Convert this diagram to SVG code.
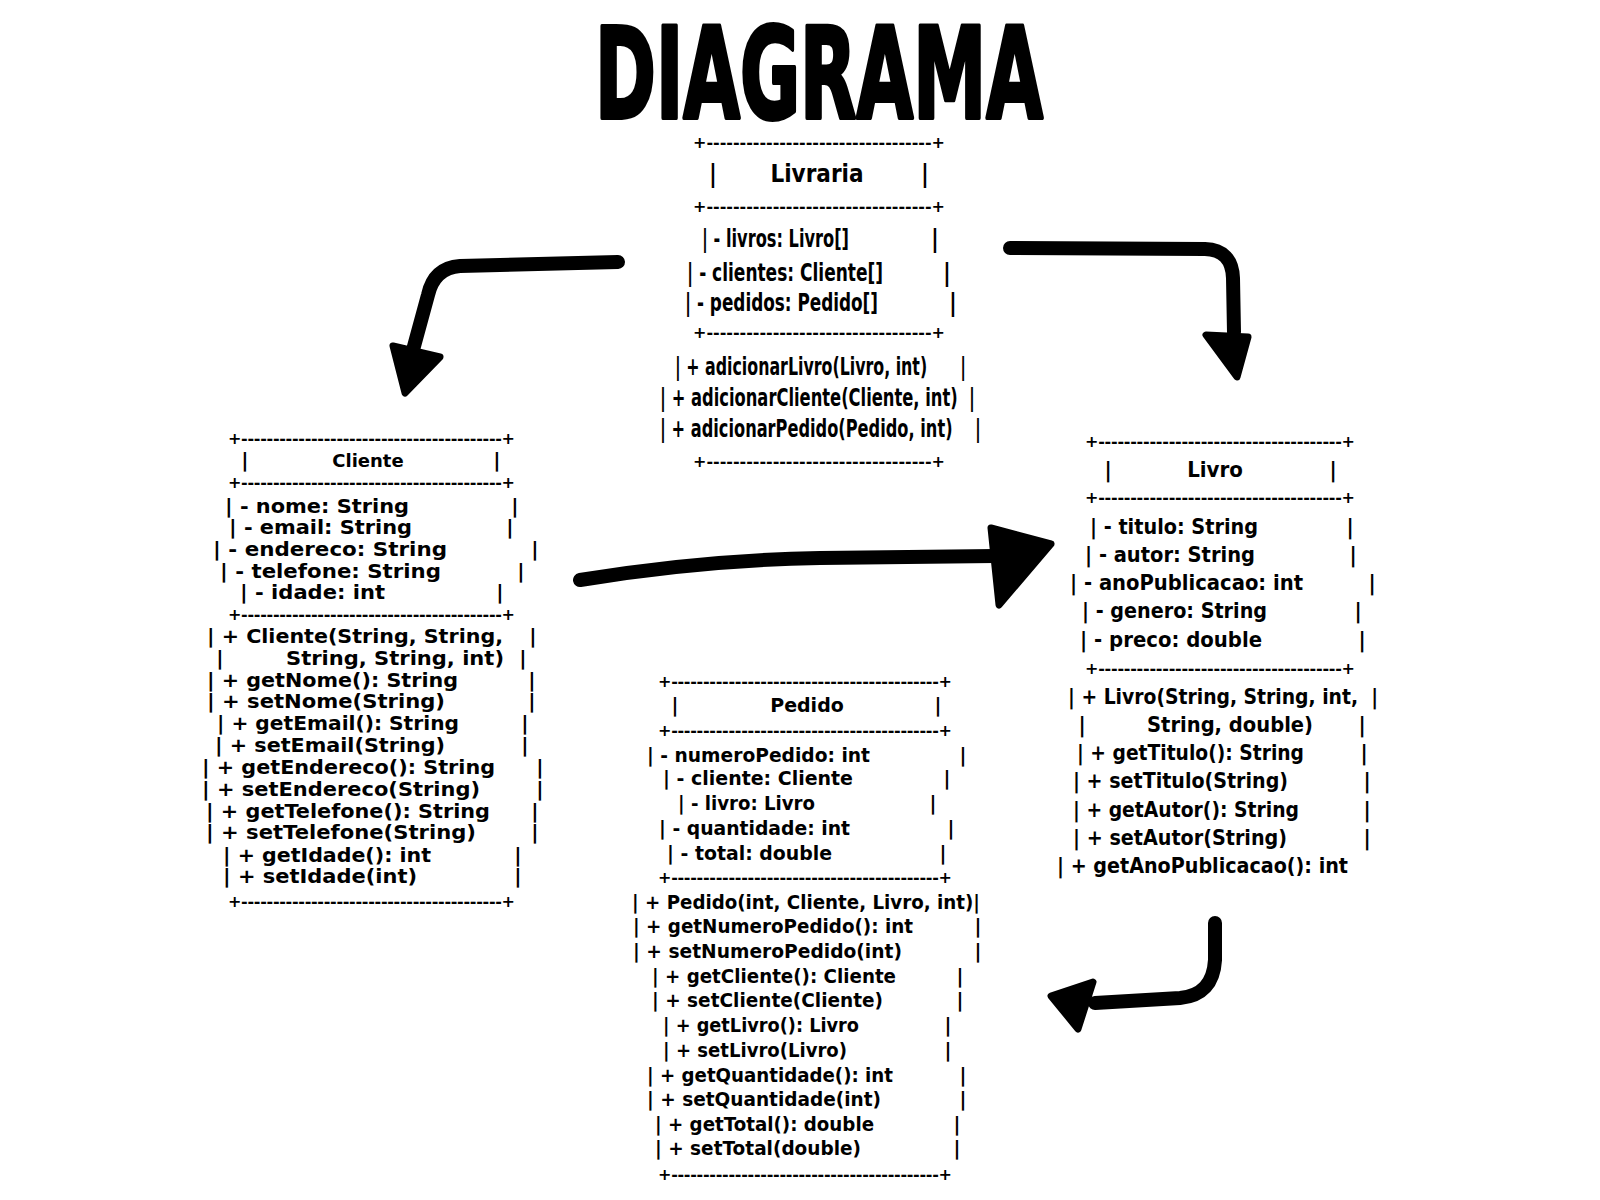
<svg xmlns="http://www.w3.org/2000/svg" width="1600" height="1200" viewBox="0 0 1600 1200">
<style>
text{fill:#000}
.title{font-family:'DejaVu Sans Condensed','DejaVu Sans',sans-serif;font-stretch:condensed;font-weight:bold;font-size:126px;stroke:#000;stroke-width:4px;stroke-linejoin:round}
.lv{font-family:'DejaVu Sans Condensed','DejaVu Sans',sans-serif;font-stretch:condensed;font-weight:bold;font-size:24px;white-space:pre}
.li{font-family:'DejaVu Sans Condensed','DejaVu Sans',sans-serif;font-stretch:condensed;font-weight:bold;font-size:22px;white-space:pre}
.cl{font-family:'DejaVu Sans',sans-serif;font-weight:bold;font-size:20px}
.pe{font-family:'DejaVu Sans',sans-serif;font-weight:bold;font-size:19px}
.bd{font-family:'DejaVu Sans',sans-serif;font-weight:bold;font-size:16px}
.rb{text-anchor:middle}
.mid{text-anchor:middle}
.wire{fill:none;stroke:#000;stroke-width:14;stroke-linecap:round;stroke-linejoin:round}
.head{fill:#000;stroke:#000;stroke-width:7;stroke-linejoin:round}
</style>

<text class="title" x="595" y="118" textLength="448" lengthAdjust="spacingAndGlyphs">DIAGRAMA</text>

<g id="connectors">
  <path class="wire" d="M618,262 L460,266 Q434,268 428,295 L413,350"/>
  <polygon class="head" points="393,346 440,357 405,393"/>
  <path class="wire" d="M1010,248 L1205,249 Q1232,250 1233,278 L1234,332"/>
  <polygon class="head" points="1206,335 1248,337 1237,377"/>
  <path class="wire" d="M580,580 Q700,560 820,558 L995,556"/>
  <polygon class="head" points="991,528 1051,544 999,605"/>
  <path class="wire" d="M1215,923 L1215,960 Q1213,995 1180,998 L1095,1003"/>
  <polygon class="head" points="1093,982 1051,996 1078,1029"/>
</g>

<g id="livraria">
  <text class="bd" x="693" y="148" textLength="252" lengthAdjust="spacing">+----------------------------------+</text>
  <text class="lv" x="713" y="182" text-anchor="middle">|</text>
  <text class="lv mid" x="817" y="182">Livraria</text>
  <text class="lv" x="925" y="182" text-anchor="middle">|</text>
  <text class="bd" x="693" y="212" textLength="252" lengthAdjust="spacing">+----------------------------------+</text>
  <text class="lv" x="702" y="247" textLength="147" lengthAdjust="spacingAndGlyphs">| - livros: Livro[]</text>
  <text class="lv rb" x="935" y="247">|</text>
  <text class="lv" x="687" y="281" textLength="196" lengthAdjust="spacingAndGlyphs">| - clientes: Cliente[]</text>
  <text class="lv rb" x="947" y="281">|</text>
  <text class="lv" x="685" y="311" textLength="193" lengthAdjust="spacingAndGlyphs">| - pedidos: Pedido[]</text>
  <text class="lv rb" x="953" y="311">|</text>
  <text class="bd" x="693" y="338" textLength="252" lengthAdjust="spacing">+----------------------------------+</text>
  <text class="lv" x="675" y="375" textLength="291" lengthAdjust="spacingAndGlyphs">| + adicionarLivro(Livro, int)      |</text>
  <text class="lv" x="660" y="406" textLength="315" lengthAdjust="spacingAndGlyphs">| + adicionarCliente(Cliente, int)  |</text>
  <text class="lv" x="660" y="437" textLength="321" lengthAdjust="spacingAndGlyphs">| + adicionarPedido(Pedido, int)    |</text>
  <text class="bd" x="693" y="467" textLength="252" lengthAdjust="spacing">+----------------------------------+</text>
</g>

<g id="cliente">
  <text class="bd" x="228" y="444" textLength="287" lengthAdjust="spacing">+-----------------------------------------+</text>
  <text class="cl rb" x="245" y="467">|</text>
  <text class="cl mid" x="368" y="467" style="font-size:18px">Cliente</text>
  <text class="cl rb" x="497" y="467">|</text>
  <text class="bd" x="228" y="488" textLength="287" lengthAdjust="spacing">+-----------------------------------------+</text>
  <text class="cl" x="225" y="513" textLength="184" lengthAdjust="spacingAndGlyphs">| - nome: String</text>
  <text class="cl rb" x="515" y="513">|</text>
  <text class="cl" x="229" y="534" textLength="183" lengthAdjust="spacingAndGlyphs">| - email: String</text>
  <text class="cl rb" x="510" y="534">|</text>
  <text class="cl" x="213" y="556" textLength="234" lengthAdjust="spacingAndGlyphs">| - endereco: String</text>
  <text class="cl rb" x="535" y="556">|</text>
  <text class="cl" x="220" y="578" textLength="221" lengthAdjust="spacingAndGlyphs">| - telefone: String</text>
  <text class="cl rb" x="521" y="578">|</text>
  <text class="cl" x="240" y="599" textLength="145" lengthAdjust="spacingAndGlyphs">| - idade: int</text>
  <text class="cl rb" x="500" y="599">|</text>
  <text class="bd" x="228" y="620" textLength="287" lengthAdjust="spacing">+-----------------------------------------+</text>
  <text class="cl" x="207" y="643" textLength="296" lengthAdjust="spacingAndGlyphs">| + Cliente(String, String,</text>
  <text class="cl rb" x="533" y="643">|</text>
  <text class="cl rb" x="220" y="665">|</text>
  <text class="cl" x="286" y="665" textLength="218" lengthAdjust="spacingAndGlyphs">String, String, int)</text>
  <text class="cl rb" x="523" y="665">|</text>
  <text class="cl" x="207" y="687" textLength="251" lengthAdjust="spacingAndGlyphs">| + getNome(): String</text>
  <text class="cl rb" x="532" y="687">|</text>
  <text class="cl" x="207" y="708" textLength="238" lengthAdjust="spacingAndGlyphs">| + setNome(String)</text>
  <text class="cl rb" x="532" y="708">|</text>
  <text class="cl" x="217" y="730" textLength="242" lengthAdjust="spacingAndGlyphs">| + getEmail(): String</text>
  <text class="cl rb" x="525" y="730">|</text>
  <text class="cl" x="215" y="752" textLength="230" lengthAdjust="spacingAndGlyphs">| + setEmail(String)</text>
  <text class="cl rb" x="525" y="752">|</text>
  <text class="cl" x="202" y="774" textLength="293" lengthAdjust="spacingAndGlyphs">| + getEndereco(): String</text>
  <text class="cl rb" x="540" y="774">|</text>
  <text class="cl" x="202" y="796" textLength="278" lengthAdjust="spacingAndGlyphs">| + setEndereco(String)</text>
  <text class="cl rb" x="540" y="796">|</text>
  <text class="cl" x="206" y="818" textLength="284" lengthAdjust="spacingAndGlyphs">| + getTelefone(): String</text>
  <text class="cl rb" x="535" y="818">|</text>
  <text class="cl" x="206" y="839" textLength="270" lengthAdjust="spacingAndGlyphs">| + setTelefone(String)</text>
  <text class="cl rb" x="535" y="839">|</text>
  <text class="cl" x="223" y="862" textLength="208" lengthAdjust="spacingAndGlyphs">| + getIdade(): int</text>
  <text class="cl rb" x="518" y="862">|</text>
  <text class="cl" x="223" y="883" textLength="194" lengthAdjust="spacingAndGlyphs">| + setIdade(int)</text>
  <text class="cl rb" x="518" y="883">|</text>
  <text class="bd" x="228" y="907" textLength="287" lengthAdjust="spacing">+-----------------------------------------+</text>
</g>

<g id="livro">
  <text class="bd" x="1085" y="447" textLength="270" lengthAdjust="spacing">+--------------------------------------+</text>
  <text class="li rb" x="1108" y="477">|</text>
  <text class="li mid" x="1215" y="477">Livro</text>
  <text class="li rb" x="1333" y="477">|</text>
  <text class="bd" x="1085" y="503" textLength="270" lengthAdjust="spacing">+--------------------------------------+</text>
  <text class="li" x="1090" y="534" textLength="168" lengthAdjust="spacingAndGlyphs">| - titulo: String</text>
  <text class="li rb" x="1350" y="534">|</text>
  <text class="li" x="1085" y="562" textLength="170" lengthAdjust="spacingAndGlyphs">| - autor: String</text>
  <text class="li rb" x="1353" y="562">|</text>
  <text class="li" x="1070" y="590" textLength="233" lengthAdjust="spacingAndGlyphs">| - anoPublicacao: int</text>
  <text class="li rb" x="1372" y="590">|</text>
  <text class="li" x="1082" y="618" textLength="185" lengthAdjust="spacingAndGlyphs">| - genero: String</text>
  <text class="li rb" x="1358" y="618">|</text>
  <text class="li" x="1080" y="647" textLength="182" lengthAdjust="spacingAndGlyphs">| - preco: double</text>
  <text class="li rb" x="1362" y="647">|</text>
  <text class="bd" x="1085" y="674" textLength="270" lengthAdjust="spacing">+--------------------------------------+</text>
  <text class="li" x="1068" y="704" textLength="310" lengthAdjust="spacingAndGlyphs">| + Livro(String, String, int,  |</text>
  <text class="li rb" x="1082" y="732">|</text>
  <text class="li" x="1147" y="732" textLength="166" lengthAdjust="spacingAndGlyphs">String, double)</text>
  <text class="li rb" x="1362" y="732">|</text>
  <text class="li" x="1077" y="760" textLength="227" lengthAdjust="spacingAndGlyphs">| + getTitulo(): String</text>
  <text class="li rb" x="1364" y="760">|</text>
  <text class="li" x="1073" y="788" textLength="215" lengthAdjust="spacingAndGlyphs">| + setTitulo(String)</text>
  <text class="li rb" x="1367" y="788">|</text>
  <text class="li" x="1073" y="817" textLength="226" lengthAdjust="spacingAndGlyphs">| + getAutor(): String</text>
  <text class="li rb" x="1367" y="817">|</text>
  <text class="li" x="1073" y="845" textLength="214" lengthAdjust="spacingAndGlyphs">| + setAutor(String)</text>
  <text class="li rb" x="1367" y="845">|</text>
  <text class="li" x="1057" y="873" textLength="291" lengthAdjust="spacingAndGlyphs">| + getAnoPublicacao(): int</text>
</g>

<g id="pedido">
  <text class="bd" x="658" y="687" textLength="294" lengthAdjust="spacing">+------------------------------------------+</text>
  <text class="pe rb" x="675" y="712">|</text>
  <text class="pe mid" x="807" y="712">Pedido</text>
  <text class="pe rb" x="938" y="712">|</text>
  <text class="bd" x="658" y="736" textLength="294" lengthAdjust="spacing">+------------------------------------------+</text>
  <text class="pe" x="647" y="762" textLength="223" lengthAdjust="spacingAndGlyphs">| - numeroPedido: int</text>
  <text class="pe rb" x="963" y="762">|</text>
  <text class="pe" x="663" y="785" textLength="190" lengthAdjust="spacingAndGlyphs">| - cliente: Cliente</text>
  <text class="pe rb" x="947" y="785">|</text>
  <text class="pe" x="678" y="810" textLength="137" lengthAdjust="spacingAndGlyphs">| - livro: Livro</text>
  <text class="pe rb" x="933" y="810">|</text>
  <text class="pe" x="659" y="835" textLength="191" lengthAdjust="spacingAndGlyphs">| - quantidade: int</text>
  <text class="pe rb" x="951" y="835">|</text>
  <text class="pe" x="667" y="860" textLength="165" lengthAdjust="spacingAndGlyphs">| - total: double</text>
  <text class="pe rb" x="943" y="860">|</text>
  <text class="bd" x="658" y="883" textLength="294" lengthAdjust="spacing">+------------------------------------------+</text>
  <text class="pe" x="632" y="909" textLength="348" lengthAdjust="spacingAndGlyphs">| + Pedido(int, Cliente, Livro, int)|</text>
  <text class="pe" x="633" y="933" textLength="280" lengthAdjust="spacingAndGlyphs">| + getNumeroPedido(): int</text>
  <text class="pe rb" x="978" y="933">|</text>
  <text class="pe" x="633" y="958" textLength="269" lengthAdjust="spacingAndGlyphs">| + setNumeroPedido(int)</text>
  <text class="pe rb" x="978" y="958">|</text>
  <text class="pe" x="652" y="983" textLength="244" lengthAdjust="spacingAndGlyphs">| + getCliente(): Cliente</text>
  <text class="pe rb" x="960" y="983">|</text>
  <text class="pe" x="652" y="1007" textLength="231" lengthAdjust="spacingAndGlyphs">| + setCliente(Cliente)</text>
  <text class="pe rb" x="960" y="1007">|</text>
  <text class="pe" x="663" y="1032" textLength="196" lengthAdjust="spacingAndGlyphs">| + getLivro(): Livro</text>
  <text class="pe rb" x="948" y="1032">|</text>
  <text class="pe" x="663" y="1057" textLength="184" lengthAdjust="spacingAndGlyphs">| + setLivro(Livro)</text>
  <text class="pe rb" x="948" y="1057">|</text>
  <text class="pe" x="647" y="1082" textLength="246" lengthAdjust="spacingAndGlyphs">| + getQuantidade(): int</text>
  <text class="pe rb" x="963" y="1082">|</text>
  <text class="pe" x="647" y="1106" textLength="234" lengthAdjust="spacingAndGlyphs">| + setQuantidade(int)</text>
  <text class="pe rb" x="963" y="1106">|</text>
  <text class="pe" x="655" y="1131" textLength="219" lengthAdjust="spacingAndGlyphs">| + getTotal(): double</text>
  <text class="pe rb" x="957" y="1131">|</text>
  <text class="pe" x="655" y="1155" textLength="206" lengthAdjust="spacingAndGlyphs">| + setTotal(double)</text>
  <text class="pe rb" x="957" y="1155">|</text>
  <text class="bd" x="658" y="1180" textLength="294" lengthAdjust="spacing">+------------------------------------------+</text>
</g>
</svg>
